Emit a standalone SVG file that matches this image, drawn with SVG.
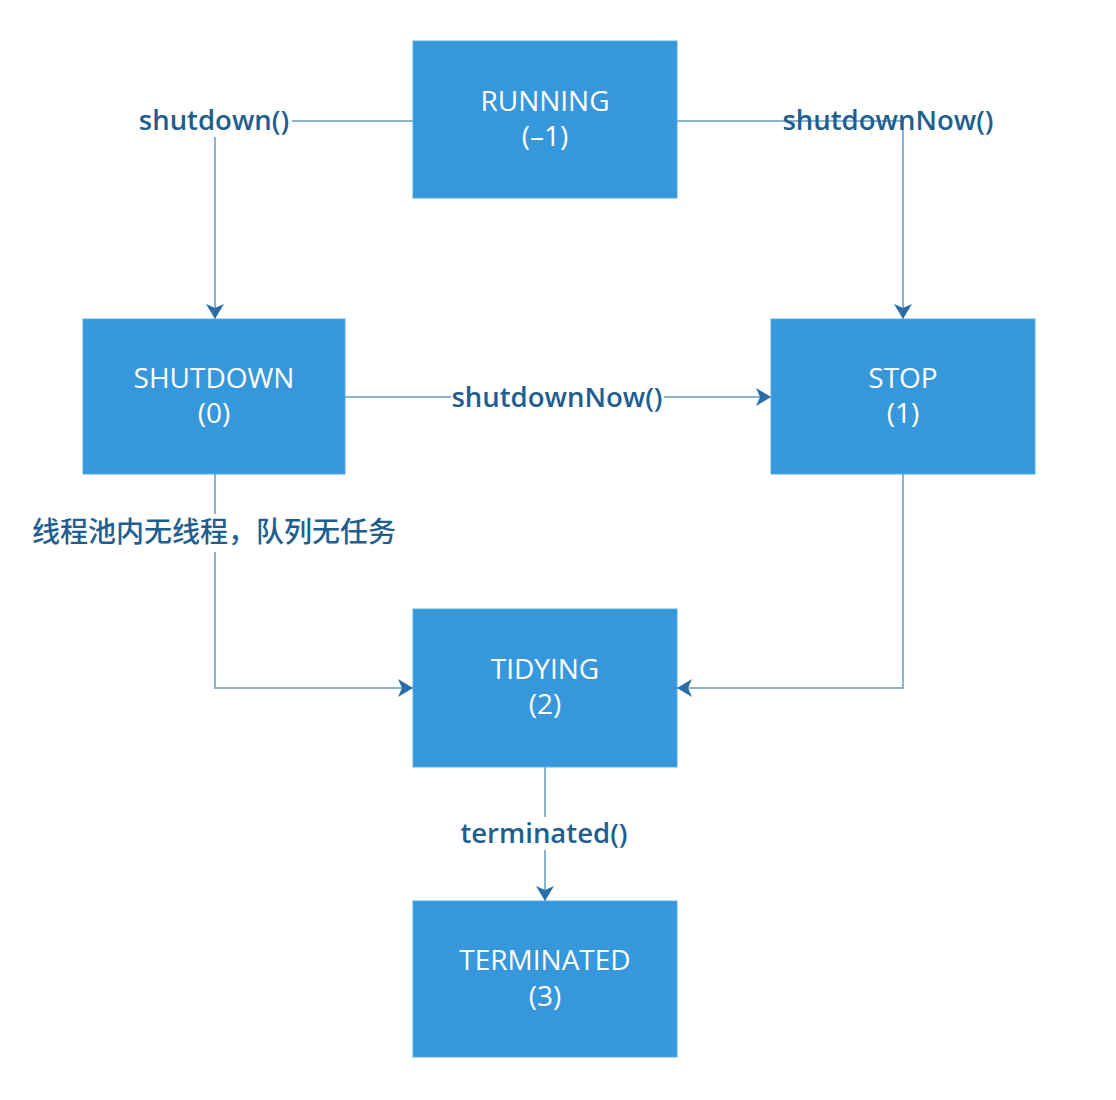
<svg xmlns="http://www.w3.org/2000/svg" width="1116" height="1100" viewBox="0 0 1116 1100">
<style>
.box{fill:#3797db;stroke:#5aabe3;stroke-width:1}
.nt{fill:#ffffff;font-family:"Open Sans","Noto Sans CJK SC",sans-serif;font-size:28px;font-weight:500;text-anchor:middle}
.lbl{fill:#1f5f8f;font-family:"Open Sans","Noto Sans CJK SC",sans-serif;font-size:27.5px;font-weight:600;text-anchor:middle}
.cjk{fill:#1f5f8f;font-family:"Noto Sans CJK SC",sans-serif;font-size:28px;font-weight:500;text-anchor:middle}
.ln{fill:none;stroke:#8ab4d2;stroke-width:2}
.bg{fill:#ffffff}
</style>
<defs>
<marker id="arr" markerUnits="userSpaceOnUse" viewBox="0 0 15 18" refX="15" refY="9" markerWidth="15" markerHeight="18" orient="auto">
<path d="M0,0 L15,9 L0,18 L4,9 z" fill="#2b6ea6"/>
</marker>
</defs>
<rect width="1116" height="1100" fill="#ffffff"/>
<g id="connectors">
<path class="ln" d="M413,121 H215 V319" marker-end="url(#arr)"/>
<path class="ln" d="M677,121 H903 V319" marker-end="url(#arr)"/>
<path class="ln" d="M345,397 H771" marker-end="url(#arr)"/>
<path class="ln" d="M215,474 V688 H413" marker-end="url(#arr)"/>
<path class="ln" d="M903,474 V688 H677" marker-end="url(#arr)"/>
<path class="ln" d="M545,767 V901" marker-end="url(#arr)"/>
<rect class="bg" x="137" y="104" width="155" height="33"/>
<text class="lbl" x="214" y="130">shutdown()</text>
<text class="lbl" x="888" y="130">shutdownNow()</text>
<rect class="bg" x="451" y="381" width="213" height="33"/>
<text class="lbl" x="557" y="407">shutdownNow()</text>
<rect class="bg" x="30" y="514" width="368" height="38"/>
<text class="cjk" x="214" y="542">线程池内无线程，队列无任务</text>
<rect class="bg" x="459" y="817" width="172" height="33"/>
<text class="lbl" x="544" y="843">terminated()</text>
</g>
<g id="running">
<rect class="box" x="413" y="41" width="264" height="157"/>
<text class="nt" x="545" y="111">RUNNING</text>
<text class="nt" x="545" y="146">(–1)</text>
</g>
<g id="shutdown">
<rect class="box" x="83" y="319" width="262" height="155"/>
<text class="nt" x="214" y="388">SHUTDOWN</text>
<text class="nt" x="214" y="423">(0)</text>
</g>
<g id="stop">
<rect class="box" x="771" y="319" width="264" height="155"/>
<text class="nt" x="903" y="388">STOP</text>
<text class="nt" x="903" y="423">(1)</text>
</g>
<g id="tidying">
<rect class="box" x="413" y="609" width="264" height="158"/>
<text class="nt" x="545" y="679">TIDYING</text>
<text class="nt" x="545" y="714">(2)</text>
</g>
<g id="terminated">
<rect class="box" x="413" y="901" width="264" height="156"/>
<text class="nt" x="545" y="970">TERMINATED</text>
<text class="nt" x="545" y="1006">(3)</text>
</g>
</svg>
